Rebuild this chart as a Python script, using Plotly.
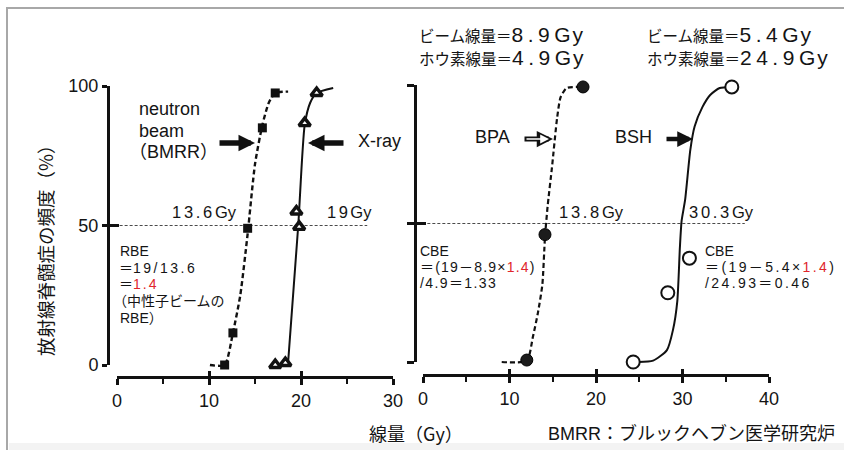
import plotly.graph_objects as go

W, H = 844, 450

# ---------------- data ----------------
# left panel: neutron beam (BMRR) vs X-ray
neutron_dose = [11.7, 12.6, 14.2, 15.8, 17.2]
neutron_freq = [0, 11.5, 49, 85, 97.5]
neutron_curve_dose = [10.1, 11.7, 12.6, 13.4, 14.2, 15.0, 15.8, 16.5, 17.2, 18.6]
neutron_curve_freq = [0, 0, 11.5, 25, 47, 72, 86, 94, 97.5, 98]

xray_dose = [17.2, 18.3, 19.5, 19.8, 20.4, 21.7]
xray_freq = [0, 0.7, 55, 49.5, 86.7, 97.5]
xray_curve_dose = [18.6, 19.7, 20.4, 21.0, 21.7, 23.5]
xray_curve_freq = [1, 50, 86, 94, 97.5, 99.3]

# right panel: BPA vs BSH
bpa_dose = [12.0, 14.1, 18.5]
bpa_freq = [0.7, 46, 99.3]
bpa_curve_dose = [9.1, 12.0, 12.7, 13.3, 13.8, 14.1, 14.4, 14.9, 15.5, 15.9, 16.6, 18.5]
bpa_curve_freq = [0, 0.5, 9, 18, 28, 45, 56, 70, 88, 95.5, 98.9, 99.3]

bsh_dose = [24.3, 28.3, 30.8, 35.7]
bsh_freq = [0, 25, 37.5, 99.3]
bsh_curve_dose = [24.9, 26.6, 28.2, 28.9, 29.4, 29.7, 29.9, 30.3, 30.9, 31.4, 32.3, 33.2, 34.3, 35.7]
bsh_curve_freq = [0, 0.5, 4.3, 11.6, 22, 41.5, 51, 58.5, 76.5, 85, 92, 96.4, 98.9, 99.3]

left_xrange = [0, 30]
right_xrange = [0, 40]
yticks = [0, 50, 100]

# ---------------- layout geometry (pixels) ----------------
L_X0, L_XK = 117, 9.2      # px at dose 0, px per Gy
L_Y0, L_YK = 365, 2.79     # px at 0 %, px per %
R_X0, R_XK = 423, 8.65
R_Y0, R_YK = 362, 2.77

LATIN = "Liberation Sans, Arial, Noto Sans CJK JP, sans-serif"
CJK = "Noto Sans CJK JP, Liberation Sans, sans-serif"
INK = "#111111"
TXT = "#141414"
RED = "#e0262b"


def xdom(x0, k, lo, hi):
    return [(x0 + k * lo) / W, (x0 + k * hi) / W]


def ydom(y0, k, lo, hi):
    return [1 - (y0 - k * lo) / H, 1 - (y0 - k * hi) / H]


fig = go.Figure()

# curves
fig.add_trace(go.Scatter(x=neutron_curve_dose, y=neutron_curve_freq, mode="lines",
                         line=dict(color=INK, width=2.4, dash="5px,3px", shape="spline", smoothing=0.6),
                         xaxis="x", yaxis="y"))
fig.add_trace(go.Scatter(x=xray_curve_dose, y=xray_curve_freq, mode="lines",
                         line=dict(color=INK, width=2, shape="spline", smoothing=0.6),
                         xaxis="x", yaxis="y"))
fig.add_trace(go.Scatter(x=bpa_curve_dose, y=bpa_curve_freq, mode="lines",
                         line=dict(color=INK, width=2.2, dash="5px,3px", shape="spline", smoothing=0.6),
                         xaxis="x2", yaxis="y2"))
fig.add_trace(go.Scatter(x=bsh_curve_dose, y=bsh_curve_freq, mode="lines",
                         line=dict(color=INK, width=2, shape="spline", smoothing=0.6),
                         xaxis="x2", yaxis="y2"))
# markers
fig.add_trace(go.Scatter(x=neutron_dose, y=neutron_freq, mode="markers", cliponaxis=False,
                         marker=dict(symbol="square", size=9, color=INK),
                         xaxis="x", yaxis="y"))
fig.add_trace(go.Scatter(x=xray_dose, y=xray_freq, mode="markers", cliponaxis=False,
                         marker=dict(symbol="triangle-up", size=10, color="white",
                                     line=dict(color=INK, width=3.4)),
                         xaxis="x", yaxis="y"))
fig.add_trace(go.Scatter(x=bpa_dose, y=bpa_freq, mode="markers", cliponaxis=False,
                         marker=dict(symbol="circle", size=12, color="#1c1c1c",
                                     line=dict(color="#000", width=1)),
                         xaxis="x2", yaxis="y2"))
fig.add_trace(go.Scatter(x=bsh_dose, y=bsh_freq, mode="markers", cliponaxis=False,
                         marker=dict(symbol="circle", size=13, color="white",
                                     line=dict(color=INK, width=2)),
                         xaxis="x2", yaxis="y2"))
# empty traces so that the display axes exist
for xa, ya in [("x3", "y3"), ("x4", "y4"), ("x5", "y5"), ("x6", "y6")]:
    fig.add_trace(go.Scatter(x=[], y=[], xaxis=xa, yaxis=ya, hoverinfo="skip"))

hidden = dict(visible=False, showgrid=False, zeroline=False, automargin=False)
tickfont = dict(family=LATIN, size=18, color=TXT)
common = dict(automargin=False, showgrid=False, zeroline=False)

layout = dict(
    template="none",
    width=W, height=H, autosize=False,
    margin=dict(l=0, r=0, t=0, b=0, pad=0, autoexpand=False),
    paper_bgcolor="white", plot_bgcolor="rgba(0,0,0,0)",
    showlegend=False,
    # invisible data axes
    xaxis=dict(hidden, domain=xdom(L_X0, L_XK, -1.5, 30.5), range=[-1.5, 30.5], anchor="y"),
    yaxis=dict(hidden, domain=ydom(L_Y0, L_YK, -5, 105), range=[-5, 105], anchor="x"),
    xaxis2=dict(hidden, domain=xdom(R_X0, R_XK, -1, 41), range=[-1, 41], anchor="y2"),
    yaxis2=dict(hidden, domain=ydom(R_Y0, R_YK, -5, 105), range=[-5, 105], anchor="x2"),
    # visible axes, left panel
    xaxis3=dict(common, domain=xdom(L_X0, L_XK, *left_xrange), range=left_xrange, anchor="free",
                position=1 - 377 / H, showline=True, linewidth=3, linecolor=INK,
                ticks="outside", ticklen=6, tickwidth=2.5, tickcolor=INK,
                tickmode="linear", tick0=0, dtick=10, tickfont=tickfont,
                minor=dict(ticks="outside", ticklen=5, tickwidth=2, tickcolor=INK, tick0=0, dtick=5)),
    yaxis3=dict(common, domain=ydom(L_Y0, L_YK, 0, 100), range=[0, 100], anchor="free",
                position=108 / W, showline=True, linewidth=3, linecolor=INK,
                ticks="outside", ticklen=5, tickwidth=2.5, tickcolor=INK,
                tickmode="array", tickvals=yticks, tickfont=tickfont),
    xaxis5=dict(common, overlaying="x3", range=left_xrange, anchor="free", position=1 - 377 / H,
                ticks="inside", ticklen=6, tickwidth=2.5, tickcolor=INK,
                tickmode="linear", tick0=0, dtick=10, showticklabels=False, showline=False),
    yaxis5=dict(common, overlaying="y3", range=[0, 100], anchor="free", position=108 / W,
                ticks="inside", ticklen=10, tickwidth=2.5, tickcolor=INK,
                tickmode="array", tickvals=yticks, showticklabels=False, showline=False),
    # visible axes, right panel
    xaxis4=dict(common, domain=xdom(R_X0, R_XK, *right_xrange), range=right_xrange, anchor="free",
                position=1 - 375 / H, showline=True, linewidth=3, linecolor=INK,
                ticks="outside", ticklen=6, tickwidth=2.5, tickcolor=INK,
                tickmode="linear", tick0=0, dtick=10, tickfont=tickfont,
                minor=dict(ticks="outside", ticklen=5, tickwidth=2, tickcolor=INK, tick0=0, dtick=5)),
    yaxis4=dict(common, domain=ydom(R_Y0, R_YK, 0, 100), range=[0, 100], anchor="free",
                position=415 / W, showline=True, linewidth=3, linecolor=INK,
                ticks="outside", ticklen=7, tickwidth=2.5, tickcolor=INK,
                tickmode="array", tickvals=yticks, showticklabels=False),
    xaxis6=dict(common, overlaying="x4", range=right_xrange, anchor="free", position=1 - 375 / H,
                ticks="inside", ticklen=6, tickwidth=2.5, tickcolor=INK,
                tickmode="linear", tick0=0, dtick=10, showticklabels=False, showline=False),
    yaxis6=dict(common, overlaying="y4", range=[0, 100], anchor="free", position=415 / W,
                ticks="inside", ticklen=10, tickwidth=2.5, tickcolor=INK,
                tickmode="array", tickvals=yticks, showticklabels=False, showline=False),
)
fig.update_layout(**layout)

# ---------------- shapes ----------------
shapes = [
    # frame of the scanned figure
    dict(type="rect", xref="paper", yref="paper", x0=9 / W, x1=1, y0=0, y1=1 - 443 / H,
         fillcolor="#f3f3f3", line=dict(width=0), layer="below"),
    dict(type="line", xref="paper", yref="paper", x0=6 / W, x1=1, y0=1 - 8 / H, y1=1 - 8 / H,
         line=dict(color="#a8a8a8", width=2)),
    dict(type="line", xref="paper", yref="paper", x0=7 / W, x1=7 / W, y0=0, y1=1 - 8 / H,
         line=dict(color="#a8a8a8", width=2)),
    # 50 % reference lines
    dict(type="line", xref="x", yref="y", x0=-0.8, x1=27.2, y0=50, y1=50,
         line=dict(color="#4a4a4a", width=1, dash="3px,2px"), layer="below"),
    dict(type="line", xref="x2", yref="y2", x0=0.5, x1=37.2, y0=50, y1=50,
         line=dict(color="#4a4a4a", width=1, dash="3px,2px"), layer="below"),
]
fig.update_layout(shapes=shapes)


# ---------------- annotations ----------------
def txt(s, x, y, size, xanchor="left", color=TXT, family=LATIN, angle=0):
    return dict(text=s, x=x / W, y=1 - y / H, xref="paper", yref="paper",
                xanchor=xanchor, yanchor="middle", showarrow=False, textangle=angle,
                font=dict(size=size, color=color, family=family))


def arrow(tip, tail, y, width, size, color=INK):
    return dict(text="", x=tip / W, y=1 - y / H, xref="paper", yref="paper",
                ax=tail - tip, ay=0, showarrow=True, arrowhead=2, arrowwidth=width,
                arrowsize=size, arrowcolor=color, standoff=0)


def sp(s, ls, size=None, color=None):
    st = f"letter-spacing:{ls}px"
    if size:
        st += f";font-size:{size}px"
    if color:
        st += f";color:{color}"
    return f'<span style="{st}">{s}</span>'


def header(cjk, num):
    return cjk + sp(num, 4.5, 21) + sp("Gy", 2, 21)


ann = [
    # axis titles
    txt("放射線脊髄症の頻度（%）", 45, 246, 18.5, xanchor="center", family=CJK, angle=-90),
    txt("線量（Gy）", 416, 433, 18, xanchor="center", family=CJK),
    txt("BMRR：ブルックヘブン医学研究炉", 691, 433, 18, xanchor="center"),
    # left panel labels
    txt("neutron", 137, 109, 18),
    txt("beam", 137, 131, 18),
    txt("（BMRR）", 127, 152, 18),
    txt("X-ray", 356, 141, 18),
    txt(sp("13.6", 2.7) + "Gy", 170, 212, 16.5),
    txt(sp("19", 2.5) + "Gy", 325, 212, 16.5),
    txt("RBE", 118, 250.5, 14),
    txt("＝" + sp("19/13.6", 2.5), 117, 267.5, 14),
    txt("＝" + sp("1.4", 2, color=RED), 117, 284, 14),
    txt("（中性子ビームの", 111, 301, 14),
    txt("RBE）", 118, 318, 14),
    # right panel headers
    txt(header("ビーム線量＝", "8.9"), 417, 34.5, 15.5),
    txt(header("ホウ素線量＝", "4.9"), 417, 57.5, 15.5),
    txt(header("ビーム線量＝", "5.4"), 645, 34.5, 15.5),
    txt(header("ホウ素線量＝", "24.9"), 645, 57.5, 15.5),
    # right panel labels
    txt("BPA", 473, 137, 18),
    txt("BSH", 613, 137, 18),
    txt(sp("13.8", 2.7) + "Gy", 557, 212, 16.5),
    txt(sp("30.3", 2.7) + "Gy", 687, 212, 16.5),
    txt("CBE", 418, 250.5, 14),
    txt(sp("＝(19－8.9×", 1.2) + sp("1.4", 1.2, color=RED) + ")", 418, 267, 14),
    txt(sp("/4.9＝1.33", 1.4), 418, 283, 14),
    txt("CBE", 703, 250.5, 14),
    txt(sp("＝(19－5.4×", 2.4) + sp("1.4", 2.4, color=RED) + ")", 703, 267, 14),
    txt(sp("/24.93＝0.46", 2.4), 703, 283, 14),
    # arrows
    arrow(255, 218, 143, 5.5, 0.6),
    arrow(308, 345, 143, 5.5, 0.6),
    arrow(553, 523, 139, 5, 0.65),
    arrow(549, 525, 139, 1.6, 1.1, color="white"),
    arrow(693, 665, 139, 4.5, 0.7),
]
fig.update_layout(annotations=ann)

fig.write_html("out.html", config={"displayModeBar": False},
               post_script="document.body.style.margin='0';")
